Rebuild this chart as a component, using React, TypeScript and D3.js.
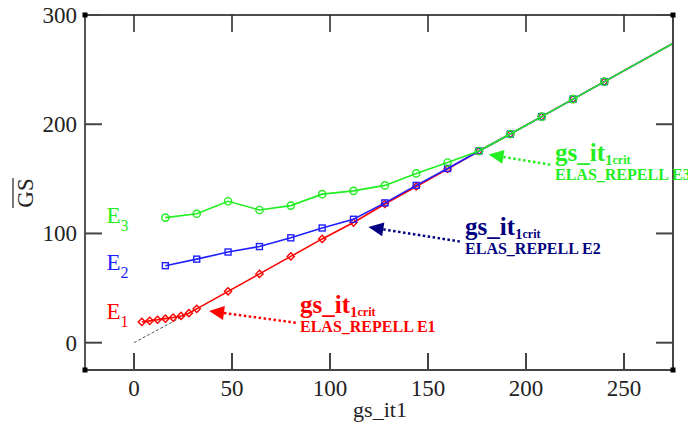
import React from "react";
import * as d3 from "d3";

const W = 688;
const H = 429;

// ---- data ----
const xTicks = [0, 50, 100, 150, 200, 250];
const yTicks = [0, 100, 200, 300];

const e1X = [4, 8, 12, 16, 20, 24, 28, 32, 48, 64, 80, 96, 112, 128, 144, 160, 176, 192, 208, 224, 240, 288];
const e1Y = [19, 20, 21, 22, 23, 24.5, 27, 31, 47, 63, 79, 95, 110, 127, 143, 159, 175.5, 191, 207, 223, 239, 287];

const e2X = [16, 32, 48, 64, 80, 96, 112, 128, 144, 160, 176, 192, 208, 224, 240, 288];
const e2Y = [70.5, 76.5, 83, 88, 96, 105, 113, 128, 144, 159.5, 175.5, 191, 207, 223, 239, 287];

const e3X = [16, 32, 48, 64, 80, 96, 112, 128, 144, 160, 176, 192, 208, 224, 240, 288];
const e3Y = [114.5, 118, 129.5, 121.5, 125.5, 136, 139, 144, 155, 165, 175.5, 191, 207, 223, 239, 287];

const refX = [0, 32];
const refY = [0, 31];

const seriesNames = ["E1", "E2", "E3"];
const seriesSub = ["1", "2", "3"];
const seriesColors = ["#ff0000", "#1f1fff", "#22ee22"];
const labelY = [22, 67, 110];
const labelX = [-14, -14, -14];

const annoColors = ["#ff0000", "#000080", "#22ee22"];
const annoLines = ["ELAS_REPELL E1", "ELAS_REPELL E2", "ELAS_REPELL E3"];
const arrowTipX = [38.3, 119.6, 180.9];
const arrowTipY = [29.0, 105.9, 172.3];
const arrowTailX = [83.7, 166.3, 213.3];
const arrowTailY = [18.0, 92.6, 162.7];
const textX = [84.7, 168.9, 214.8];
const textY = [27.2, 98.6, 166.1];

const xScale = d3.scaleLinear().domain([-25, 275]).range([85, 673]);
const yScale = d3.scaleLinear().domain([-25, 300]).range([370, 15]);

function diamond(cx: number, cy: number, r: number) {
  return `M${cx},${cy - r}L${cx + r},${cy}L${cx},${cy + r}L${cx - r},${cy}Z`;
}

export default function App() {
  const [x0, x1] = xScale.range();
  const [y0, y1] = yScale.range();
  const line = d3
    .line<[number, number]>()
    .x((d) => xScale(d[0]))
    .y((d) => yScale(d[1]));

  const series = [
    { xs: e1X, ys: e1Y, marker: "diamond" },
    { xs: e2X, ys: e2Y, marker: "square" },
    { xs: e3X, ys: e3Y, marker: "circle" },
  ];

  const axisCol = "#444";
  const tickLen = 17;
  const font = "'Liberation Serif', 'DejaVu Serif', serif";

  return (
    <svg width={W} height={H} style={{ position: "absolute", left: 0, top: 0, background: "#fff" }}>
      <defs>
        <clipPath id="plot">
          <rect x={x0} y={y1} width={x1 - x0} height={y0 - y1} />
        </clipPath>
      </defs>
      <rect x={0} y={0} width={W} height={H} fill="#fff" />

      {/* reference dashed line */}
      <path
        d={line(refX.map((v, i) => [v, refY[i]]) as [number, number][]) || ""}
        stroke="#555"
        strokeWidth={1}
        strokeDasharray="3,2"
        fill="none"
      />

      <g clipPath="url(#plot)">
        {series.map((s, si) => {
          const pts = s.xs.map((v, i) => [v, s.ys[i]] as [number, number]);
          const col = seriesColors[si];
          return (
            <g key={si}>
              <path d={line(pts) || ""} stroke={col} strokeWidth={1.6} fill="none" />
              {pts.map((p, i) => {
                const cx = xScale(p[0]);
                const cy = yScale(p[1]);
                if (s.marker === "diamond")
                  return <path key={i} d={diamond(cx, cy, 3.6)} stroke={col} strokeWidth={1.4} fill="none" />;
                if (s.marker === "square")
                  return <rect key={i} x={cx - 3} y={cy - 3} width={6} height={6} stroke={col} strokeWidth={1.4} fill="none" />;
                return <circle key={i} cx={cx} cy={cy} r={3.6} stroke={col} strokeWidth={1.4} fill="none" />;
              })}
            </g>
          );
        })}
      </g>

      {/* frame */}
      <line x1={x0} y1={y1} x2={x1} y2={y1} stroke="#111" strokeWidth={1.5} />
      <line x1={x0} y1={y0} x2={x1} y2={y0} stroke={axisCol} strokeWidth={2} />
      <line x1={x0} y1={y1} x2={x0} y2={y0} stroke="#555" strokeWidth={2} />
      <line x1={x1} y1={y1} x2={x1} y2={y0} stroke={axisCol} strokeWidth={2} />

      {/* ticks */}
      {xTicks.map((t) => (
        <g key={"xt" + t}>
          <line x1={xScale(t)} x2={xScale(t)} y1={y0} y2={y0 - tickLen} stroke={axisCol} strokeWidth={2} />
          <line x1={xScale(t)} x2={xScale(t)} y1={y1} y2={y1 + tickLen} stroke="#222" strokeWidth={1.5} />
          <text x={xScale(t)} y={396} textAnchor="middle" fontFamily={font} fontSize={23} fill="#222">
            {t}
          </text>
        </g>
      ))}
      {yTicks.map((t) => (
        <g key={"yt" + t}>
          <line x1={x0} x2={x0 + tickLen} y1={yScale(t)} y2={yScale(t)} stroke={axisCol} strokeWidth={2} />
          <line x1={x1} x2={x1 - tickLen} y1={yScale(t)} y2={yScale(t)} stroke={axisCol} strokeWidth={2} />
          <text x={77} y={yScale(t) + 8} textAnchor="end" fontFamily={font} fontSize={23} fill="#222">
            {t}
          </text>
        </g>
      ))}

      {/* corner squares */}
      {[
        [x0, y1],
        [x0, y0],
        [x1, y1],
        [x1, y0],
      ].map((c, i) => (
        <rect key={i} x={c[0] - 2.5} y={c[1] - 2.5} width={5} height={5} fill="#000" />
      ))}

      {/* axis labels */}
      <text x={380} y={417} textAnchor="middle" fontFamily={font} fontSize={22} fill="#222">
        gs_it1
      </text>
      <g transform="translate(33,193) rotate(-90)">
        <text x={0} y={0} textAnchor="middle" fontFamily={font} fontSize={23} fill="#222">
          GS
        </text>
        <line x1={-15} x2={15} y1={-20} y2={-20} stroke="#222" strokeWidth={1.2} />
      </g>

      {/* series labels */}
      {seriesNames.map((n, i) => (
        <text
          key={n}
          x={xScale(labelX[i])}
          y={yScale(labelY[i])}
          fontFamily={font}
          fontSize={23}
          fill={seriesColors[i]}
        >
          E
          <tspan fontSize={16} dy={8}>
            {seriesSub[i]}
          </tspan>
        </text>
      ))}

      {/* annotations */}
      {annoLines.map((t, i) => {
        const tx = xScale(arrowTipX[i]);
        const ty = yScale(arrowTipY[i]);
        const ex = xScale(arrowTailX[i]);
        const ey = yScale(arrowTailY[i]);
        const ang = Math.atan2(ey - ty, ex - tx);
        const L = 15;
        const hw = 7;
        const bx = tx + L * Math.cos(ang);
        const by = ty + L * Math.sin(ang);
        const px = -Math.sin(ang) * hw;
        const py = Math.cos(ang) * hw;
        const col = annoColors[i];
        const ax = xScale(textX[i]);
        const ay = yScale(textY[i]);
        return (
          <g key={t}>
            <line x1={bx} y1={by} x2={ex} y2={ey} stroke={col} strokeWidth={2.5} strokeDasharray="2.5,2.5" />
            <path d={`M${tx},${ty}L${bx + px},${by + py}L${bx - px},${by - py}Z`} fill={col} />
            <text x={ax} y={ay} fontFamily={font} fontWeight="bold" fontSize={25} fill={col}>
              gs_it
              <tspan fontSize={15} dy={4}>
                1
              </tspan>
              <tspan fontSize={12} dy={-1}>
                crit
              </tspan>
            </text>
            <text x={ax} y={ay + 19} fontFamily={font} fontWeight="bold" fontSize={16} fill={col}>
              {t}
            </text>
          </g>
        );
      })}
    </svg>
  );
}
